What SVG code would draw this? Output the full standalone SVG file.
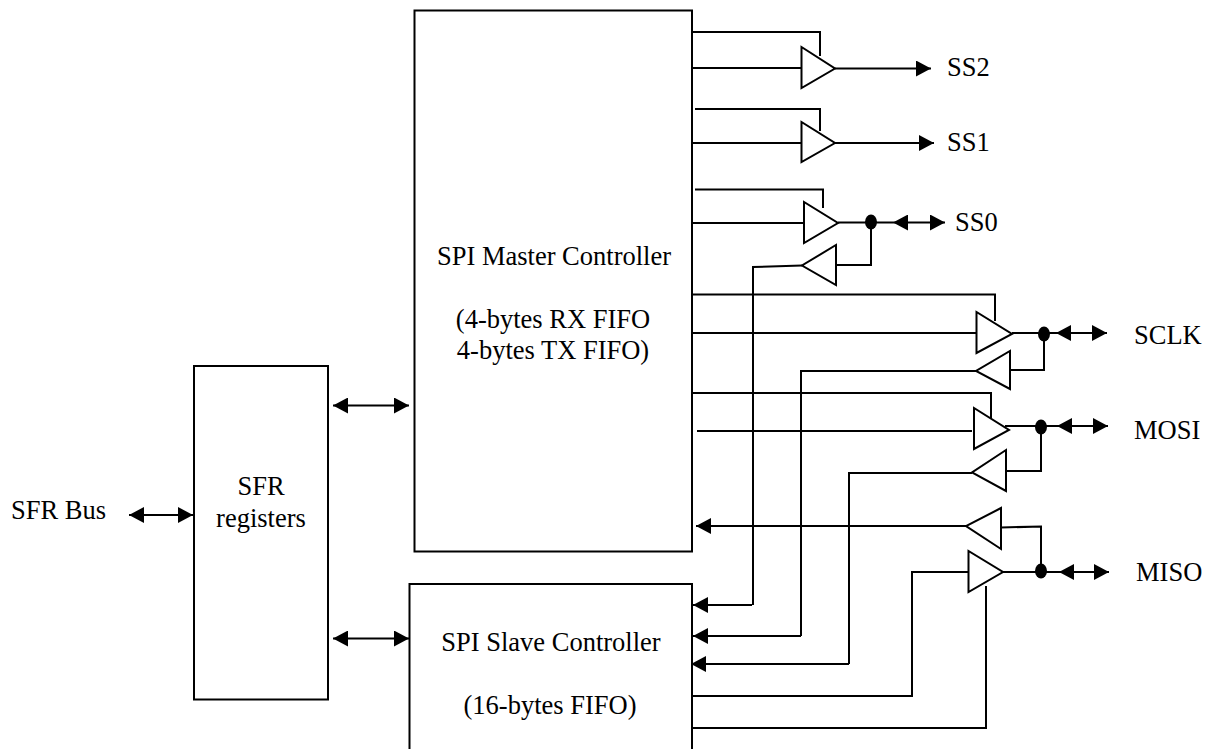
<svg xmlns="http://www.w3.org/2000/svg" width="1208" height="749" viewBox="0 0 1208 749">
<style>
text{font-family:"Liberation Serif","Times New Roman",serif;font-size:26.500px;fill:#000}
.m{text-anchor:middle}
.b{fill:#fff;stroke:#000;stroke-width:2}
.c{fill:none;stroke:#000;stroke-width:2}
.d{fill:#000}
</style>
<defs>
<marker id="a" markerUnits="userSpaceOnUse" markerWidth="15" markerHeight="16" refX="15" refY="8" orient="auto-start-reverse"><path d="M0 0L15 8L0 16Z" fill="#000"/></marker>
</defs>
<rect width="1208" height="749" fill="#fff"/>
<g id="connectors" class="conn">
<path class="c" d="M692 32H820V56"/>
<path class="c" d="M692 68H802"/>
<path class="c" d="M835 68.500H931" marker-end="url(#a)"/>
<path class="c" d="M695 109H820V131"/>
<path class="c" d="M692 143H802"/>
<path class="c" d="M835 143H934" marker-end="url(#a)"/>
<path class="c" d="M695 189.500H823V208"/>
<path class="c" d="M692 223H804"/>
<path class="c" d="M838 222.500H893"/>
<path class="c" d="M893 222.500H945" marker-start="url(#a)" marker-end="url(#a)"/>
<path class="c" d="M871 222V265H836"/>
<path class="c" d="M802 265.500L753 267V605"/>
<path class="c" d="M689 294.500H995V321"/>
<path class="c" d="M692 333H977"/>
<path class="c" d="M1012 333H1056"/>
<path class="c" d="M1056 333H1107" marker-start="url(#a)" marker-end="url(#a)"/>
<path class="c" d="M1044 334V370H1010"/>
<path class="c" d="M976 371H801V636"/>
<path class="c" d="M692 393H991V418"/>
<path class="c" d="M697 431H972"/>
<path class="c" d="M1005 426H1057"/>
<path class="c" d="M1057 426H1108" marker-start="url(#a)" marker-end="url(#a)"/>
<path class="c" d="M1041 427V471H1006"/>
<path class="c" d="M972 473H849V664"/>
<path class="c" d="M966 526H696" marker-end="url(#a)"/>
<path class="c" d="M1001 527.500L1041 526.500V571"/>
<path class="c" d="M1003 572H1059"/>
<path class="c" d="M1059 572H1109" marker-start="url(#a)" marker-end="url(#a)"/>
<path class="c" d="M968 572H912V696H692"/>
<path class="c" d="M986 586V728H692"/>
<path class="c" d="M752 605H693" marker-end="url(#a)"/>
<path class="c" d="M801 636H693" marker-end="url(#a)"/>
<path class="c" d="M849 664H691" marker-end="url(#a)"/>
<path class="c" d="M333 405.500H409" marker-start="url(#a)" marker-end="url(#a)"/>
<path class="c" d="M333 638.500H409" marker-start="url(#a)" marker-end="url(#a)"/>
<path class="c" d="M129 515H193" marker-start="url(#a)" marker-end="url(#a)"/>
</g>
<g id="master"><rect class="b" x="414.500" y="10.500" width="277.500" height="541"/>
<text class="m" x="554" y="265">SPI Master Controller</text>
<text class="m" x="553" y="328">(4-bytes RX FIFO</text>
<text class="m" x="553" y="359">4-bytes TX FIFO)</text></g>
<g id="slave"><path class="b" d="M409.500 749V584H692V749"/>
<text class="m" x="551" y="651">SPI Slave Controller</text>
<text class="m" x="550" y="714">(16-bytes FIFO)</text></g>
<g id="sfr"><rect class="b" x="194" y="366" width="134" height="333.500"/>
<text class="m" x="261" y="495">SFR</text>
<text class="m" x="261" y="527">registers</text></g>
<g id="sfr-bus"><text x="11" y="519">SFR Bus</text></g>
<g id="buf-ss2"><path class="b" d="M801.500 47V88L835 68.500Z"/></g>
<g id="buf-ss1"><path class="b" d="M801.500 122V162L835 143Z"/></g>
<g id="buf-ss0"><path class="b" d="M804 202V243L838 223Z"/></g>
<g id="buf-ss0-in"><path class="b" d="M836 245V285L802 265.500Z"/></g>
<g id="buf-sclk"><path class="b" d="M976.500 312V353L1012 334Z"/></g>
<g id="buf-sclk-in"><path class="b" d="M1010 351V389L976 371Z"/></g>
<g id="buf-mosi"><path class="b" d="M974 408V449L1009 430Z"/></g>
<g id="buf-mosi-in"><path class="b" d="M1006 450V491L972 472.500Z"/></g>
<g id="buf-miso-in"><path class="b" d="M1001 508V549L966 526Z"/></g>
<g id="buf-miso"><path class="b" d="M968.500 551V592L1003 572Z"/></g>
<g id="dots">
<ellipse class="d" cx="871" cy="222" rx="6" ry="7.500"/>
<ellipse class="d" cx="1044" cy="334" rx="6" ry="7.500"/>
<ellipse class="d" cx="1041" cy="427" rx="6" ry="7.500"/>
<ellipse class="d" cx="1041" cy="571" rx="6" ry="7.500"/>
</g>
<g id="labels">
<text x="947" y="76">SS2</text>
<text x="947" y="151">SS1</text>
<text x="955" y="231">SS0</text>
<text x="1134" y="344">SCLK</text>
<text x="1134" y="439">MOSI</text>
<text x="1136" y="581">MISO</text>
</g>
</svg>
